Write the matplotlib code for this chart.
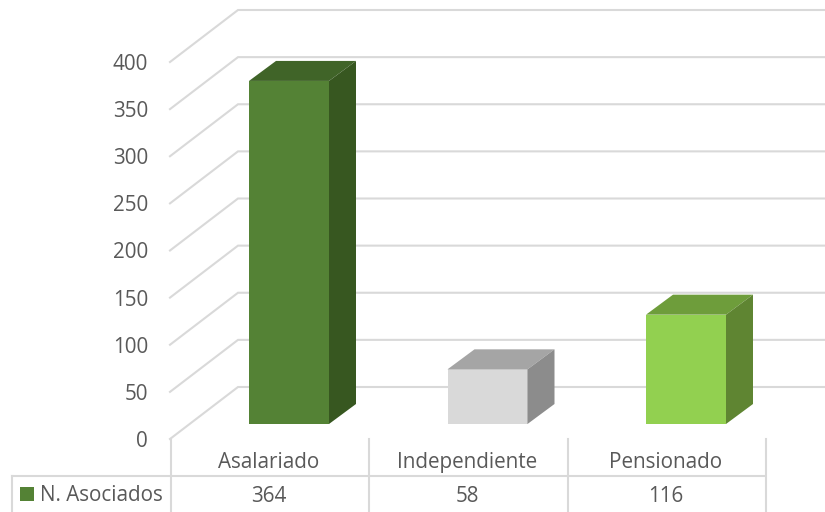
import matplotlib
matplotlib.use('Agg')
import matplotlib.pyplot as plt
from matplotlib.patches import Polygon, Rectangle

categories = ['Asalariado', 'Independiente', 'Pensionado']
asociados = [364, 58, 116]
y_ticks = [0, 50, 100, 150, 200, 250, 300, 350, 400]
serie = 'N. Asociados'

front_cl = ['#548235', '#D9D9D9', '#92D050']
top_cl = ['#406428', '#A5A5A5', '#6E9D3B']
side_cl = ['#375720', '#8C8C8C', '#5F8532']
grid_cl = '#D9D9D9'
text_cl = '#595959'

plt.rcParams['font.family'] = ['Open Sans', 'DejaVu Sans']

W, H = 825, 512
X0, STEP = 289.0, 198.5    # pixel of first bar centre, pixels per category
Y0, SCALE = 424.0, 0.9425  # pixel of bar base, pixels per unit
FS = 14.9


# helpers: pixel offsets <-> data units
def dx(px):
    return px / STEP


def dy(px):
    return px / SCALE


def xp(px):
    return (px - X0) / STEP


def yp(py):
    return (Y0 - py) / SCALE


fig = plt.figure(figsize=(W / 100, H / 100), dpi=100)
ax = fig.add_axes([0, 0, 1, 1])
ax.set_xlim(xp(0), xp(W))
ax.set_ylim(yp(H), yp(0))
ax.axis('off')

# gridlines: slanted on the side wall, flat on the back wall
grid_lw = 1.5
for v in y_ticks:
    base = yp(439) + v
    back = base + dy(52)
    ax.plot([xp(170), xp(238), xp(W)], [base, back, back], color=grid_cl, lw=grid_lw,
            solid_joinstyle='miter', zorder=1)

# bars
bar_w = dx(80)
depth_x, depth_y = dx(27), dy(20)
for i, v in enumerate(asociados):
    left, right = i - bar_w / 2, i + bar_w / 2
    ax.bar(i, v, bar_w, color=front_cl[i], lw=0, zorder=3)
    ax.add_patch(Polygon([(left, v), (right, v), (right + depth_x, v + depth_y), (left + depth_x, v + depth_y)],
                         closed=True, fc=top_cl[i], lw=0, zorder=3))
    ax.add_patch(Polygon([(right, 0), (right + depth_x, depth_y), (right + depth_x, v + depth_y), (right, v)],
                         closed=True, fc=side_cl[i], lw=0, zorder=3))

# y tick labels
for v in y_ticks:
    ax.text(xp(148), yp(447) + v, str(v), ha='right', va='baseline', fontsize=FS, color=text_cl)

# data table
y_mid, y_top = yp(476), yp(439)
y_bot = yp(H)
ax.plot([xp(12), xp(765)], [y_mid, y_mid], color=grid_cl, lw=grid_lw, zorder=1)
ax.plot([xp(12), xp(12)], [y_mid, y_bot], color=grid_cl, lw=grid_lw, zorder=1)
for i in range(len(categories) + 1):
    x = xp(170.5) + i
    ax.plot([x, x], [y_top, y_bot], color=grid_cl, lw=grid_lw, zorder=1)
for i, name in enumerate(categories):
    x = xp(269) + i
    ax.text(x, yp(468), name, ha='center', va='baseline', fontsize=FS, color=text_cl)
    ax.text(x, yp(502), str(asociados[i]), ha='center', va='baseline', fontsize=FS, color=text_cl)

ax.add_patch(Rectangle((xp(20), yp(501)), dx(14), dy(14), fc=front_cl[0], lw=0, zorder=3))
ax.text(xp(39.5), yp(501), serie, ha='left', va='baseline', fontsize=FS, color=text_cl)

plt.savefig('out.png', dpi=100)
